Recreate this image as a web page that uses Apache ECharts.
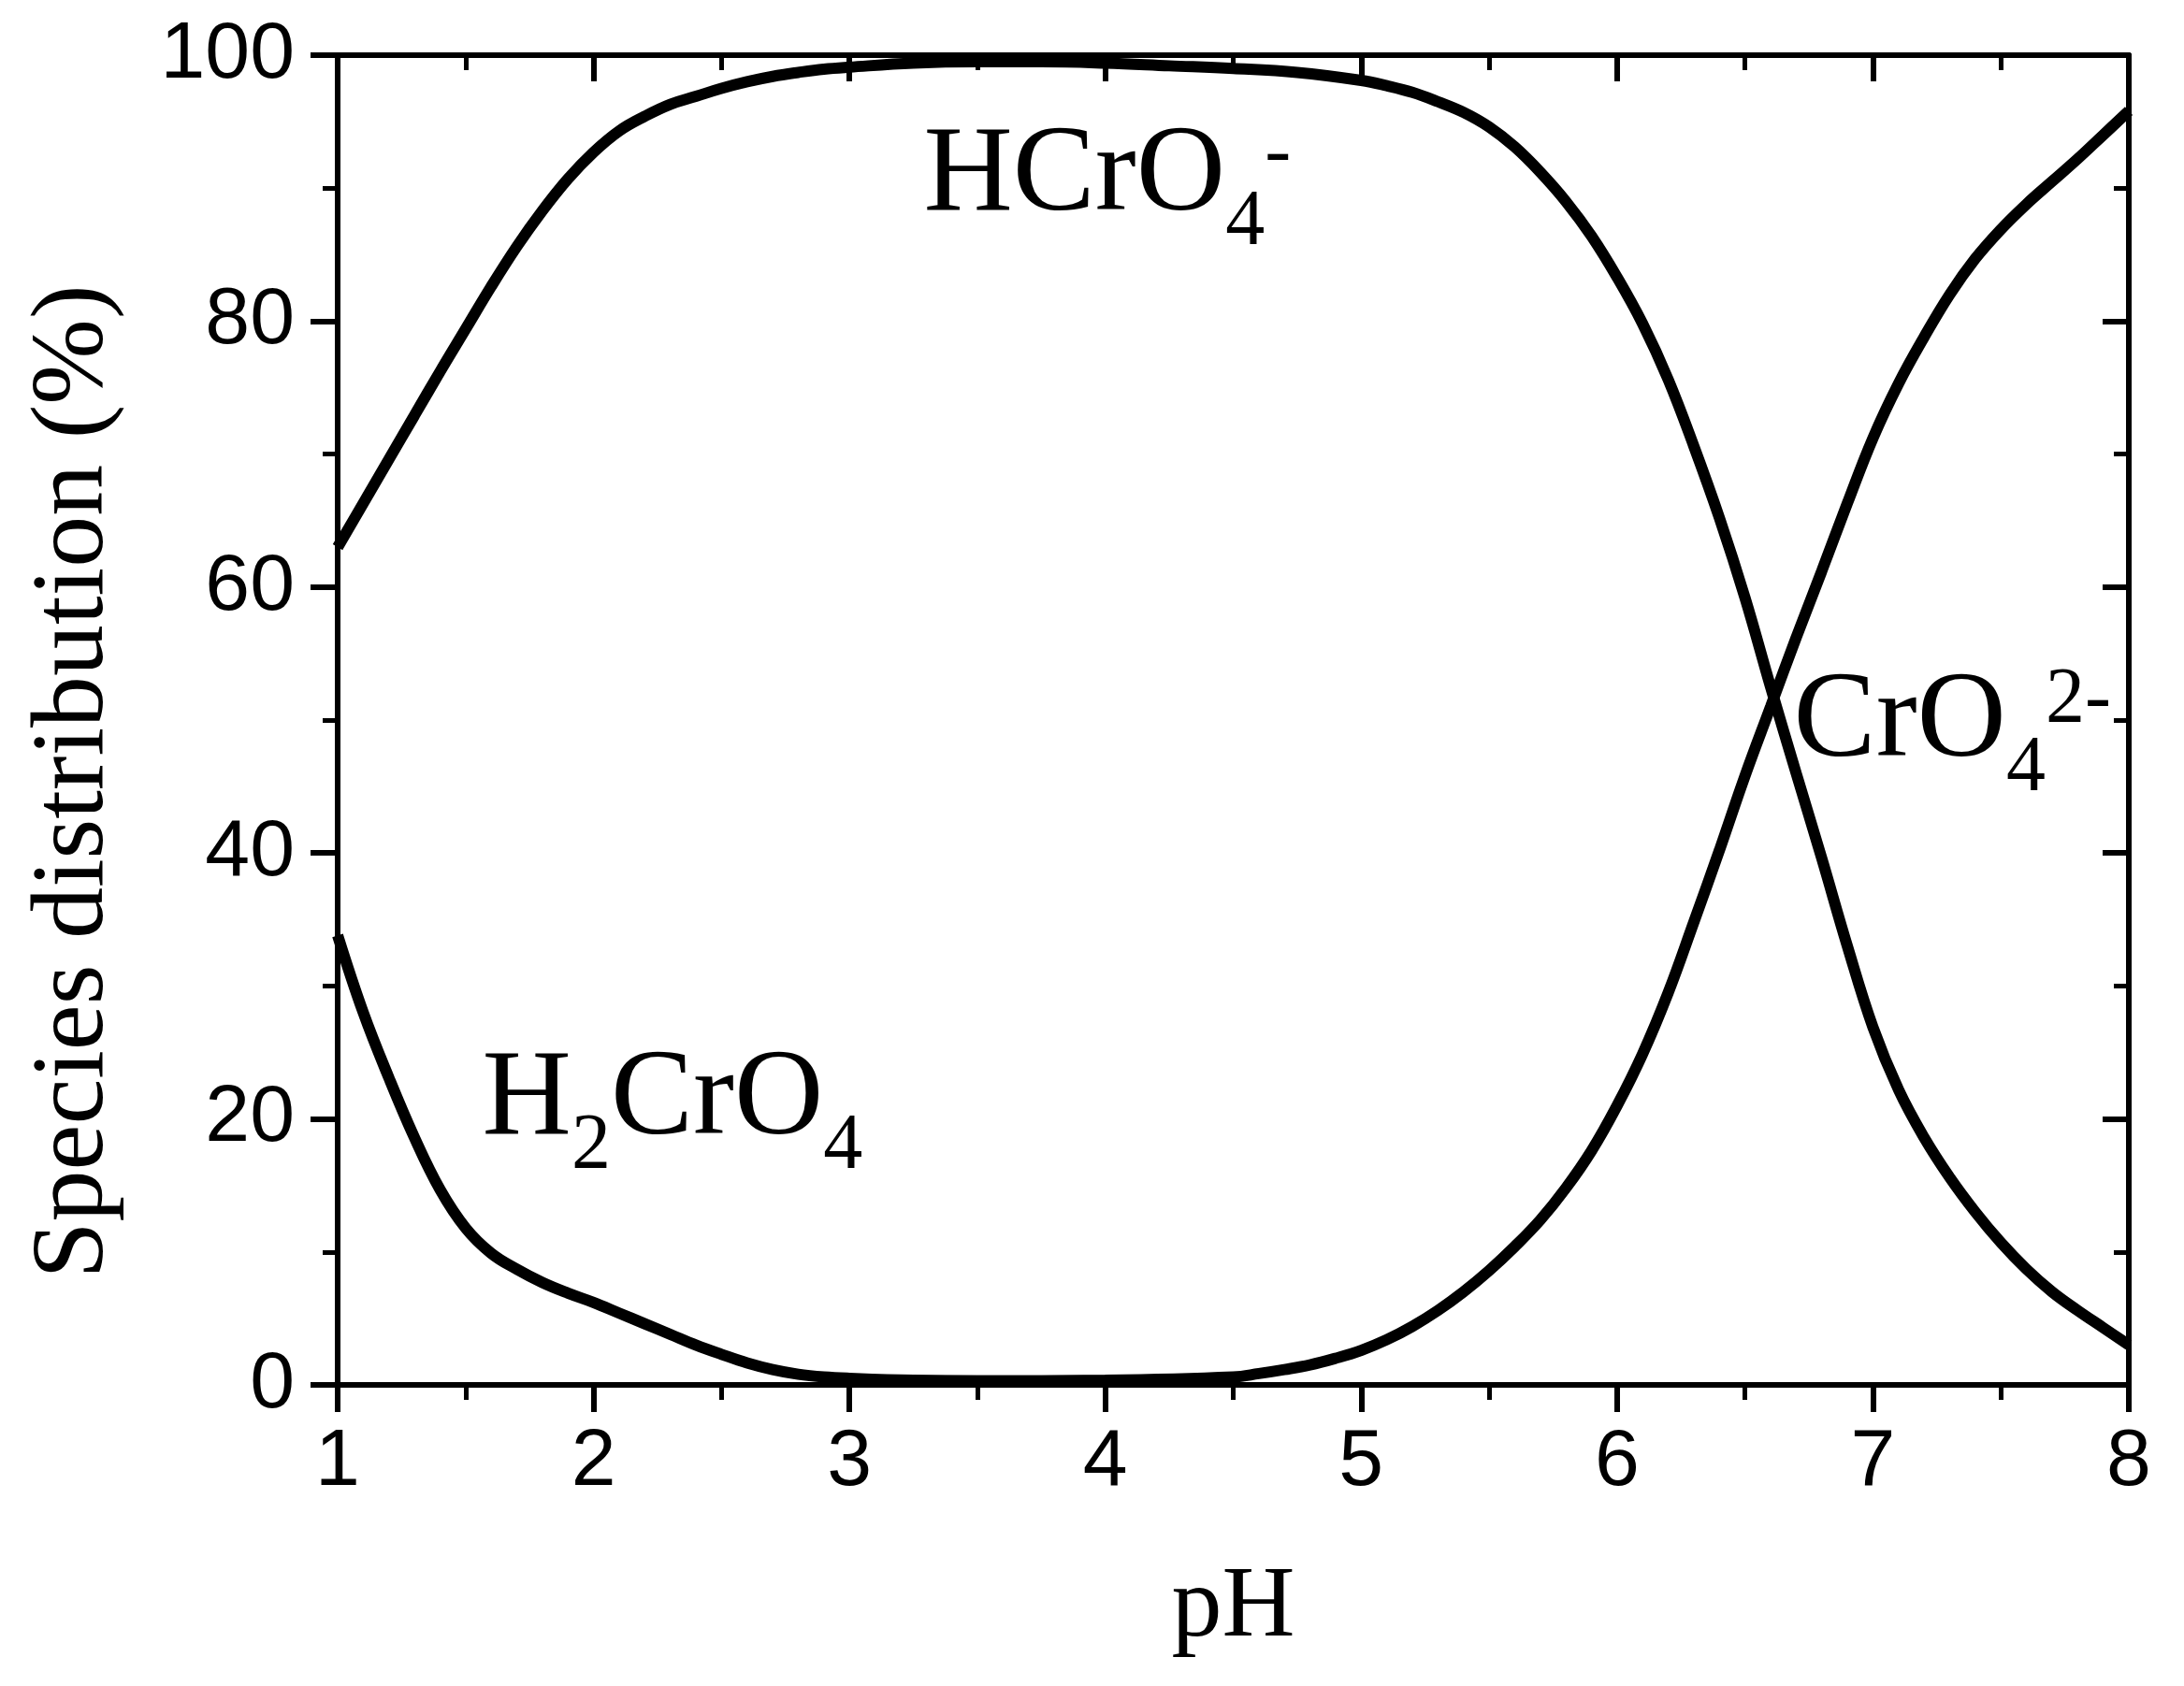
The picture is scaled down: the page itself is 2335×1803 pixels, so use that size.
<!DOCTYPE html>
<html>
<head>
<meta charset="utf-8">
<script src="https://cdn.jsdelivr.net/npm/echarts@6/dist/echarts.min.js"></script>
<style>
html,body{margin:0;padding:0;background:#ffffff;}
#chart{width:2335px;height:1803px;}
</style>
</head>
<body>
<div id="chart"></div>
<script>
// ---- axis ticks ----
const xTickValues = [1, 2, 3, 4, 5, 6, 7, 8];
const yTickValues = [0, 20, 40, 60, 80, 100];

// ---- series data ----
const phH2CrO4  = [1.0, 1.1, 1.2, 1.3, 1.4, 1.5, 1.6, 1.7, 1.8, 1.9, 2.0, 2.1, 2.2, 2.3, 2.4, 2.5, 2.6, 2.7, 2.8, 2.9, 3.0, 3.25, 3.5, 4.0, 4.5];
const pctH2CrO4 = [33.8, 28.0, 23.1, 18.6, 14.7, 11.8, 9.9, 8.7, 7.7, 6.9, 6.2, 5.4, 4.6, 3.8, 3.0, 2.3, 1.65, 1.15, 0.8, 0.6, 0.5, 0.35, 0.3, 0.3, 0.3];

const phHCrO4  = [1.0, 1.1, 1.2, 1.3, 1.4, 1.5, 1.6, 1.7, 1.8, 1.9, 2.0, 2.1, 2.2, 2.3, 2.4, 2.5, 2.6, 2.7, 2.8, 2.9, 3.0, 3.25, 3.5, 3.75, 4.0, 4.25, 4.5, 4.75, 5.0, 5.1, 5.2, 5.3, 5.4, 5.5, 5.6, 5.7, 5.8, 5.9, 6.0, 6.1, 6.2, 6.3, 6.4, 6.5, 6.6, 6.7, 6.8, 6.9, 7.0, 7.1, 7.2, 7.3, 7.4, 7.5, 7.6, 7.7, 7.8, 7.9, 8.0];
const pctHCrO4 = [63.0, 66.3, 69.6, 72.9, 76.2, 79.4, 82.6, 85.6, 88.3, 90.7, 92.7, 94.3, 95.4, 96.3, 96.9, 97.5, 98.0, 98.4, 98.7, 98.95, 99.1, 99.4, 99.5, 99.5, 99.4, 99.2, 99.0, 98.7, 98.1, 97.7, 97.2, 96.5, 95.7, 94.6, 93.1, 91.2, 89.0, 86.4, 83.3, 79.8, 75.6, 70.6, 65.2, 59.2, 52.5, 46.0, 39.6, 33.0, 26.9, 22.2, 18.6, 15.6, 13.0, 10.7, 8.7, 7.0, 5.6, 4.3, 3.0];

const phCrO4  = [3.0, 3.5, 4.0, 4.5, 4.6, 4.7, 4.8, 4.9, 5.0, 5.1, 5.2, 5.3, 5.4, 5.5, 5.6, 5.7, 5.8, 5.9, 6.0, 6.1, 6.2, 6.3, 6.4, 6.5, 6.6, 6.7, 6.8, 6.9, 7.0, 7.1, 7.2, 7.3, 7.4, 7.5, 7.6, 7.7, 7.8, 7.9, 8.0];
const pctCrO4 = [0.3, 0.3, 0.35, 0.6, 0.85, 1.15, 1.5, 2.0, 2.6, 3.4, 4.4, 5.6, 7.0, 8.6, 10.4, 12.4, 14.8, 17.6, 21.0, 24.9, 29.5, 34.8, 40.2, 45.8, 51.0, 56.2, 61.2, 66.3, 71.2, 75.3, 78.8, 82.0, 84.7, 86.9, 88.8, 90.5, 92.2, 94.0, 95.8];

const xTitle = 'pH';
const yTitle = 'Species distribution (%)';

function pairs(xs, ys) { return xs.map((x, i) => [x, ys[i]]); }

const chart = echarts.init(document.getElementById('chart'), null, {renderer: 'canvas'});

const BLACK = '#000000';
const axisLineStyle = {color: BLACK, width: 6};

function makeAxis(kind, position, isMain) {
  const vals = kind === 'x' ? xTickValues : yTickValues;
  return {
    type: 'value',
    position: position,
    min: vals[0],
    max: vals[vals.length - 1],
    interval: vals[1] - vals[0],
    axisLine: {show: true, onZero: false, lineStyle: axisLineStyle},
    axisTick: {show: true, inside: !isMain, length: isMain ? 29 : 28, lineStyle: {color: BLACK, width: 6}},
    minorTick: {show: true, splitNumber: 2, length: 16, lineStyle: {color: BLACK, width: 5}},
    splitLine: {show: false},
    minorSplitLine: {show: false},
    axisLabel: {
      show: isMain,
      fontFamily: '"Liberation Sans", Arial, sans-serif',
      fontSize: 86,
      color: BLACK,
      margin: kind === 'x' ? 40 : 46
    }
  };
}

const lineStyle = {color: BLACK, width: 12};
function lineSeries(name, xs, ys) {
  return {
    name: name,
    type: 'line',
    data: pairs(xs, ys),
    xAxisIndex: 0,
    yAxisIndex: 0,
    symbol: 'none',
    showSymbol: false,
    smooth: 0.4,
    lineStyle: lineStyle,
    clip: false,
    z: 3
  };
}

chart.setOption({
  backgroundColor: '#ffffff',
  animation: false,
  grid: {left: 361, right: 59, top: 59, bottom: 322, containLabel: false},
  xAxis: [makeAxis('x', 'bottom', true), makeAxis('x', 'top', false)],
  yAxis: [makeAxis('y', 'left', true), makeAxis('y', 'right', false)],
  series: [
    lineSeries('H2CrO4', phH2CrO4, pctH2CrO4),
    lineSeries('HCrO4-', phHCrO4, pctHCrO4),
    lineSeries('CrO42-', phCrO4, pctCrO4)
  ]
});

// ---- text annotations (chemical formulas with sub/superscripts) ----
const SERIF = '"Liberation Serif", "Times New Roman", serif';
const MAIN = 132, SMALL = 84, MID = 0.3375;
const SUB_DY = 33, SUP_DY = -40;
const measureCtx = document.createElement('canvas').getContext('2d');
function textWidth(t, size) {
  measureCtx.font = size + 'px ' + SERIF;
  return measureCtx.measureText(t).width;
}

// anchor: [pH of left edge, % at main baseline]
const annotations = [
  {anchor: [3.29, 87.7], parts: [['HCrO', 'main'], ['4', 'sub'], ['-', 'sup']]},
  {anchor: [1.565, 18.2], parts: [['H', 'main'], ['2', 'sub'], ['CrO', 'main'], ['4', 'sub']]},
  {anchor: [6.69, 46.6], parts: [['CrO', 'main'], ['4', 'sub'], ['2-', 'sup']]}
];

const graphics = [];
annotations.forEach(a => {
  const p = chart.convertToPixel({xAxisIndex: 0, yAxisIndex: 0}, a.anchor);
  let x = p[0];
  const base = p[1];
  a.parts.forEach(([t, kind]) => {
    const size = kind === 'main' ? MAIN : SMALL;
    const bl = kind === 'main' ? base : (kind === 'sub' ? base + SUB_DY : base + SUP_DY);
    graphics.push({
      type: 'text',
      x: x,
      y: bl - MID * size,
      z: 10,
      style: {text: t, font: size + 'px ' + SERIF, fill: BLACK, align: 'left', verticalAlign: 'middle'}
    });
    x += textWidth(t, size);
  });
});

// axis titles
const gridLeftPx = chart.convertToPixel({xAxisIndex: 0}, xTickValues[0]);
const gridRightPx = chart.convertToPixel({xAxisIndex: 0}, xTickValues[xTickValues.length - 1]);
graphics.push({
  type: 'text',
  x: (gridLeftPx + gridRightPx) / 2,
  y: 1757 - MID * 108,
  style: {text: xTitle, font: '108px ' + SERIF, fill: BLACK, align: 'center', verticalAlign: 'middle'}
});
graphics.push({
  type: 'text',
  x: 80,
  y: 836,
  rotation: Math.PI / 2,
  style: {text: yTitle, font: '110px ' + SERIF, fill: BLACK, align: 'center', verticalAlign: 'middle'}
});

chart.setOption({graphic: graphics});
</script>
</body>
</html>
